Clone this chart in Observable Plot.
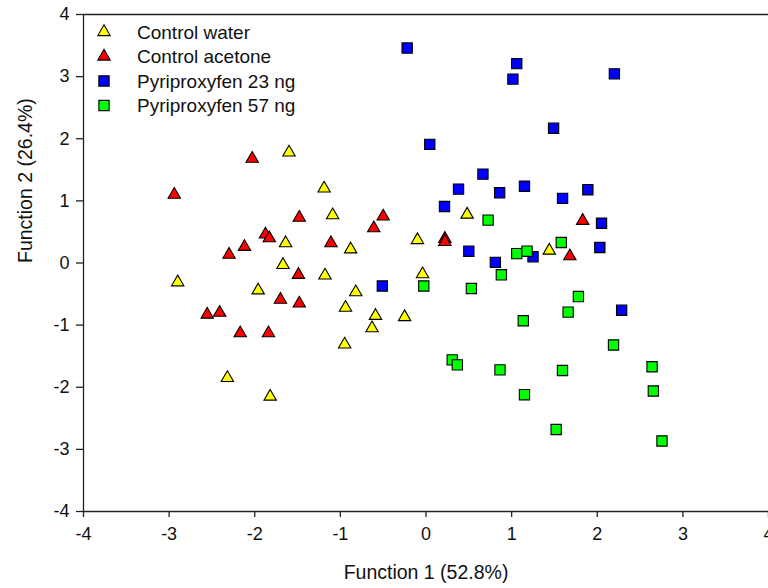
<!DOCTYPE html>
<html>
<head>
<meta charset="utf-8">
<script src="https://cdn.jsdelivr.net/npm/d3@7"></script>
<script src="https://cdn.jsdelivr.net/npm/@observablehq/plot@0.6"></script>
<style>
  html, body { margin: 0; padding: 0; background: #fff; overflow: hidden; }
  #wrap { position: relative; width: 768px; height: 588px; }
  #legend { position: absolute; left: 0; top: 0; }
</style>
</head>
<body>
<div id="wrap"></div>
<script>
// ---- data ----
const groups = ["Control water", "Control acetone", "Pyriproxyfen 23 ng", "Pyriproxyfen 57 ng"];
const groupColors = ["#ffff00", "#ff0000", "#0000ff", "#00ff00"];
const groupSymbols = ["triangle", "triangle", "square", "square"];

const controlWater = [
  [-2.90,-0.31],[-2.32,-1.85],[-1.82,-2.15],[-1.60,1.78],[-1.19,1.20],[-1.09,0.77],
  [-1.64,0.32],[-1.67,-0.03],[-1.96,-0.44],[-1.18,-0.20],[-0.88,0.22],[-0.82,-0.47],
  [-0.94,-0.72],[-0.59,-0.85],[-0.63,-1.05],[-0.95,-1.31],[-0.25,-0.87],[-0.10,0.37],
  [-0.04,-0.18],[0.48,0.78],[1.44,0.20]
];
const controlAcetone = [
  [-2.03,1.68],[-2.94,1.10],[-1.48,0.73],[-1.875,0.46],[-1.83,0.40],[-2.12,0.26],
  [-2.30,0.135],[-1.49,-0.19],[-1.70,-0.59],[-1.48,-0.65],[-2.555,-0.83],[-2.41,-0.80],
  [-2.17,-1.13],[-1.84,-1.13],[-0.50,0.75],[-0.61,0.56],[-1.11,0.32],[0.22,0.39],
  [0.22,0.34],[1.83,0.68],[1.68,0.11]
];
const pyriproxyfen23 = [
  [-0.22,3.46],[1.06,3.21],[1.015,2.96],[2.20,3.045],[1.49,2.17],[0.044,1.91],
  [0.665,1.43],[0.38,1.19],[0.86,1.13],[1.15,1.235],[1.595,1.04],[1.89,1.18],
  [0.216,0.91],[2.05,0.64],[0.50,0.19],[0.81,0.01],[2.03,0.25],[1.25,0.10],
  [-0.51,-0.37],[2.285,-0.76]
];
const pyriproxyfen57 = [
  [0.725,0.69],[1.06,0.15],[1.18,0.19],[1.58,0.33],[0.88,-0.19],[-0.026,-0.37],
  [0.53,-0.41],[1.78,-0.54],[1.66,-0.79],[1.136,-0.93],[0.306,-1.56],[0.366,-1.64],
  [0.864,-1.72],[1.594,-1.73],[2.19,-1.32],[2.64,-1.67],[2.655,-2.06],[1.15,-2.12],
  [1.52,-2.68],[2.756,-2.865]
];
const seriesValues = [controlWater, controlAcetone, pyriproxyfen23, pyriproxyfen57];

const xTicks = [-4, -3, -2, -1, 0, 1, 2, 3, 4];
const yTicks = [-4, -3, -2, -1, 0, 1, 2, 3, 4];
const xTitle = "Function 1 (52.8%)";
const yTitle = "Function 2 (26.4%)";

// ---- build table ----
const points = [];
seriesValues.forEach((arr, gi) => arr.forEach(([x, y]) => points.push({group: groups[gi], gi, x, y})));

const font = "'Liberation Sans', Arial, sans-serif";
const symR = {triangle: 4.6, square: 5.8};

const dotMarks = groups.map((g, gi) =>
  Plot.dot(points.filter(d => d.gi === gi), {
    x: "x", y: "y",
    symbol: groupSymbols[gi],
    r: symR[groupSymbols[gi]],
    fill: groupColors[gi],
    stroke: "#000",
    strokeWidth: 1.1
  })
);

const tickFont = 18;

const chart = Plot.plot({
  width: 768,
  height: 588,
  marginLeft: 83,
  marginRight: 0,
  marginTop: 14,
  marginBottom: 77,
  style: {fontFamily: font, fontSize: tickFont + "px", color: "#000", background: "#fff", overflow: "visible"},
  x: {domain: [-4, 4], axis: null},
  y: {domain: [-4, 4], axis: null},
  marks: [
    Plot.ruleY([4, -4], {stroke: "#222", strokeWidth: 1.3}),
    Plot.ruleX([-4], {stroke: "#222", strokeWidth: 1.3}),
    Plot.axisX(xTicks, {tickSize: 6, tickPadding: 10, tickFormat: d => String(d), stroke: "#222", strokeWidth: 1.3, label: null, fill: "#111"}),
    Plot.axisY(yTicks, {tickSize: 7, tickPadding: 7, tickFormat: d => String(d), stroke: "#222", strokeWidth: 1.3, label: null, fill: "#111"}),
    Plot.text([xTitle], {frameAnchor: "bottom", dy: 67, text: d => d, fontSize: 19.5, fill: "#111"}),
    Plot.text([yTitle], {frameAnchor: "left", dx: -58, rotate: -90, text: d => d, fontSize: 19.5, fill: "#111"}),
    ...dotMarks
  ]
});

// force tick-label font size
d3.select(chart).selectAll('g[aria-label$="tick label"]')
  .attr("font-size", tickFont)
  .style("font-size", tickFont + "px")
  .selectAll("text").style("font-size", tickFont + "px");

const wrap = document.getElementById("wrap");
wrap.appendChild(chart);

// ---- legend (inside plot, top-left) ----
const legend = d3.select(wrap).append("svg")
  .attr("id", "legend")
  .attr("width", 320).attr("height", 130)
  .style("font-family", font);

const rowH = 24.5;
const items = legend.selectAll("g").data(groups).join("g")
  .attr("transform", (d, i) => `translate(104, ${32 + i * rowH})`);

items.append("path")
  .attr("d", (d, i) => {
    const s = groupSymbols[i];
    const r = symR[s];
    return d3.symbol(s === "triangle" ? d3.symbolTriangle : d3.symbolSquare, Math.PI * r * r)();
  })
  .attr("fill", (d, i) => groupColors[i])
  .attr("stroke", "#000")
  .attr("stroke-width", 1.1);

items.append("text")
  .attr("x", 33)
  .attr("dy", "0.35em")
  .attr("font-size", 19)
  .attr("fill", "#111")
  .text(d => d);
</script>
</body>
</html>
